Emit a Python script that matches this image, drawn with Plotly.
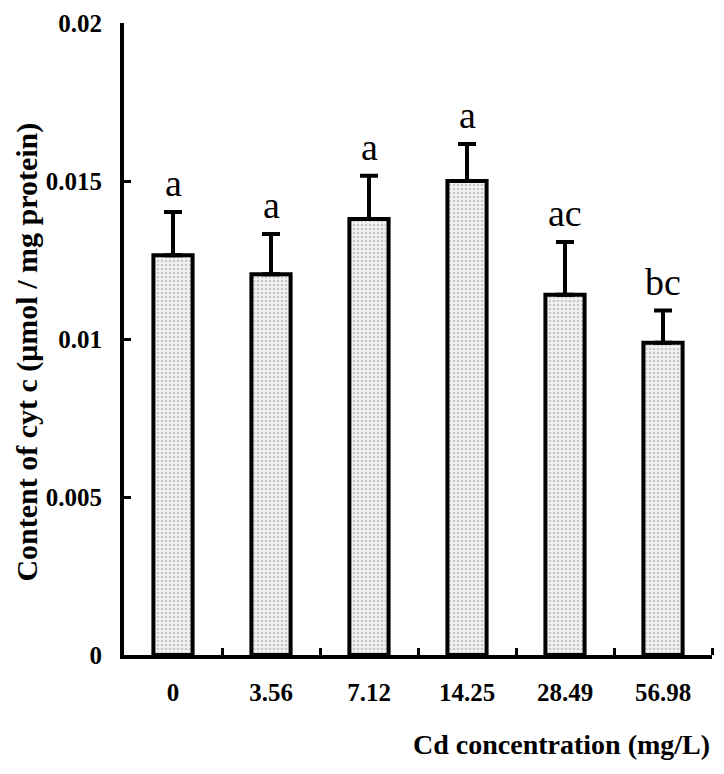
import plotly.graph_objects as go

categories = ["0", "3.56", "7.12", "14.25", "28.49", "56.98"]
values = [0.01265, 0.01205, 0.0138, 0.0150, 0.01140, 0.00988]
errors = [0.00137, 0.00127, 0.00137, 0.00117, 0.00167, 0.00102]
letters = ["a", "a", "a", "a", "ac", "bc"]
y_ticks = [0, 0.005, 0.01, 0.015, 0.02]
y_tick_text = ["0", "0.005", "0.01", "0.015", "0.02"]

FONT = "Liberation Serif, Times New Roman, serif"

fig = go.Figure()
fig.add_trace(go.Bar(
    x=list(range(len(categories))), y=values, width=0.4,
    marker=dict(color="#ececec",
                line=dict(color="black", width=4),
                pattern=dict(shape=".", fgcolor="#9a9a9a", bgcolor="#f2f2f2",
                             size=4, solidity=0.35)),
    error_y=dict(type="data", symmetric=False, array=errors,
                 arrayminus=[0]*len(errors), color="black", thickness=4, width=9),
    showlegend=False,
))

for i, (v, e, t) in enumerate(zip(values, errors, letters)):
    fig.add_annotation(x=i, y=v + e, text=t, showarrow=False, yanchor="bottom",
                       yshift=6, font=dict(family=FONT, size=38, color="black"))

fig.add_annotation(xref="paper", yref="paper", x=1.0, y=-0.142, xanchor="right",
                   yanchor="middle", showarrow=False,
                   text="<b>Cd concentration (mg/L)</b>",
                   font=dict(family=FONT, size=28, color="black"))
fig.add_annotation(xref="paper", yref="paper", x=-0.165, y=0.48, xanchor="center",
                   yanchor="middle", showarrow=False, textangle=-90,
                   text="<b>Content of cyt c (μmol / mg protein)</b>",
                   font=dict(family=FONT, size=30, color="black"))

fig.update_layout(
    width=716, height=766,
    margin=dict(l=116, r=12, t=15, b=119, autoexpand=False),
    plot_bgcolor="white", paper_bgcolor="white",
    font=dict(family=FONT, color="black"),
)
fig.update_xaxes(
    range=[-0.5, 5.5], tickvals=list(range(len(categories))),
    ticktext=["<b>%s</b>" % c for c in categories],
    showline=True, linecolor="black", linewidth=4,
    ticks="", showgrid=False, zeroline=False, automargin=False,
    tickfont=dict(family=FONT, size=25, color="black"),
    ticklabelstandoff=12, ticklabeloverflow="allow",
    minor=dict(tickvals=[i + 0.5 for i in range(len(categories))],
               ticks="inside", ticklen=7, tickwidth=3, tickcolor="black"),
)
fig.update_yaxes(
    range=[0, 0.02], tickvals=y_ticks, ticktext=["<b>%s</b>" % t for t in y_tick_text],
    showline=True, linecolor="black", linewidth=4,
    ticks="inside", ticklen=7, tickwidth=3, tickcolor="black",
    tickfont=dict(family=FONT, size=25, color="black"),
    ticklabelstandoff=13, ticklabeloverflow="allow",
    showgrid=False, zeroline=False, automargin=False,
)

fig.write_html("out.html")
